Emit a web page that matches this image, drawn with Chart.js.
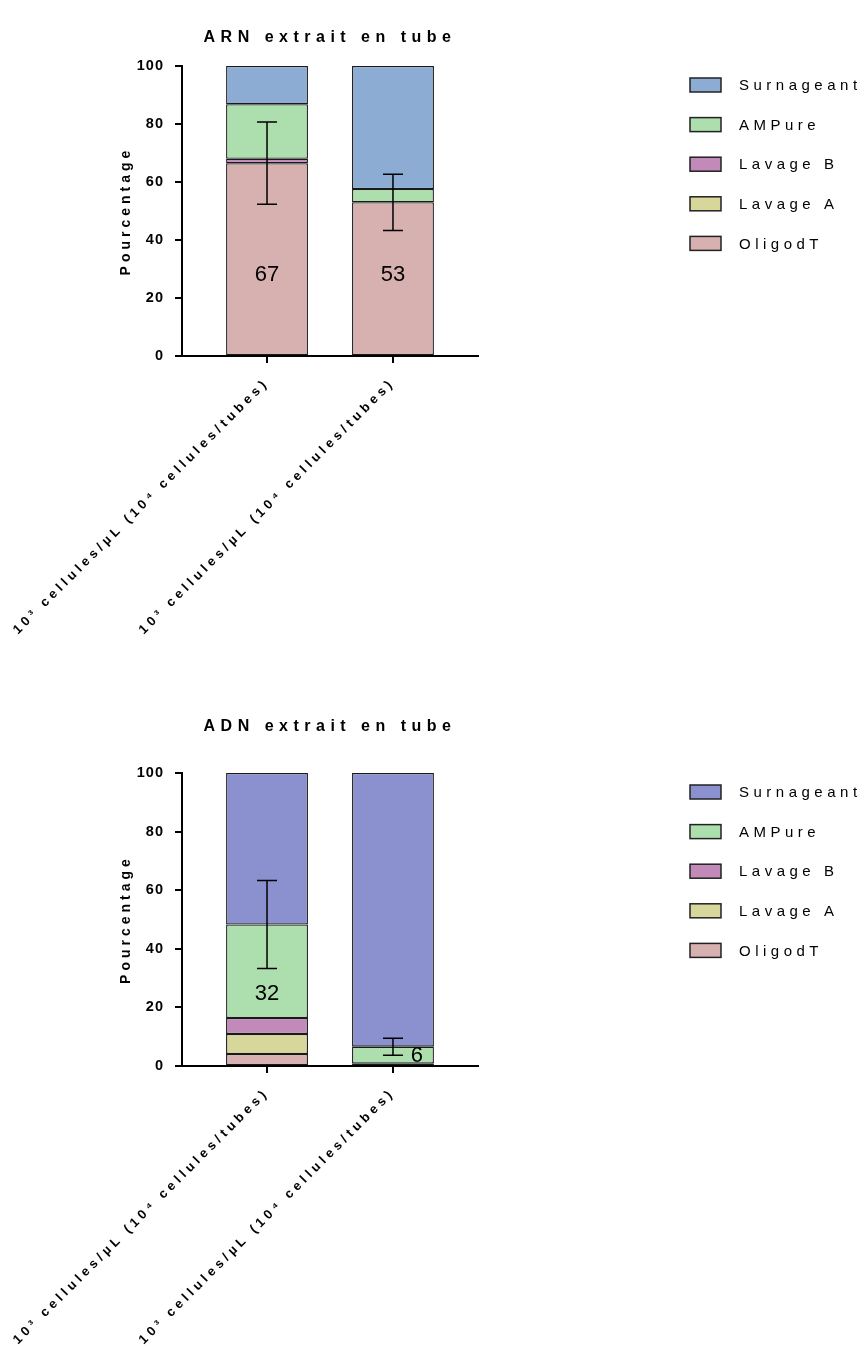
<!DOCTYPE html>
<html>
<head>
<meta charset="utf-8">
<script src="https://cdn.jsdelivr.net/npm/chart.js@4.4.1/dist/chart.umd.min.js"></script>
<style>
  body { margin: 0; background: #fff; }
  #wrap { position: relative; width: 867px; height: 1346px; }
  canvas { position: absolute; left: 0; }
</style>
</head>
<body>
<div id="wrap">
  <canvas id="arnChart" width="867" height="690" style="top:0"></canvas>
  <canvas id="adnChart" width="867" height="656" style="top:690px"></canvas>
</div>
<script>
// categories (x axis)
var categories = ['10³ cellules/µL (10⁴ cellules/tubes)', '10³ cellules/µL (10⁴ cellules/tubes)'];
var seriesNames = ['OligodT', 'Lavage A', 'Lavage B', 'AMPure', 'Surnageant'];
var yTicks = [0, 20, 40, 60, 80, 100];

// ARN extrait en tube (%)
var arnOligodT = [66.5, 53];
var arnLavageA = [0, 0];
var arnLavageB = [1.5, 0];
var arnAMPure = [18.8, 4.6];
var arnSurnageant = [13.2, 42.4];
var arnErrorOn = ['OligodT', 'OligodT'];
var arnErrorSd = [14.2, 9.7];

// ADN extrait en tube (%)
var adnOligodT = [4.1, 0.8];
var adnLavageA = [6.8, 0];
var adnLavageB = [5.5, 0];
var adnAMPure = [31.9, 5.8];
var adnSurnageant = [51.7, 93.4];
var adnErrorOn = ['AMPure', 'AMPure'];
var adnErrorSd = [15, 2.9];

var FONT = '"Liberation Sans", Arial, sans-serif';
Chart.defaults.font.family = FONT;
Chart.defaults.color = '#000';

// GraphPad-like letter spacing, picked from the font size of each text
var spacingBySize = { '16': '5.5px', '14': '4px', '14.5': '1px', '13': '4px', '15': '4.5px' };
function spacedContext(ctx) {
  var desc = Object.getOwnPropertyDescriptor(CanvasRenderingContext2D.prototype, 'font');
  Object.defineProperty(ctx, 'font', {
    configurable: true,
    get: function () { return desc.get.call(this); },
    set: function (v) {
      desc.set.call(this, v);
      var m = /([\d.]+)px/.exec(v);
      this.letterSpacing = (m && spacingBySize[m[1]]) || '0px';
    }
  });
  return ctx;
}

// legend drawn to the right, top item = top of the stack
var sideLegend = {
  id: 'sideLegend',
  afterDraw: function (chart, args, opts) {
    var ctx = chart.ctx, area = chart.chartArea;
    var items = chart.data.datasets.slice().reverse();
    ctx.save();
    ctx.font = '15px ' + FONT;
    ctx.textBaseline = 'middle';
    ctx.textAlign = 'left';
    items.forEach(function (ds, i) {
      var x = area.right + opts.left;
      var y = area.top + opts.top + i * opts.gap;
      ctx.fillStyle = ds.backgroundColor;
      ctx.fillRect(x, y - 7, 31, 14);
      ctx.strokeStyle = '#222';
      ctx.lineWidth = 1.5;
      ctx.strokeRect(x, y - 7, 31, 14);
      ctx.fillStyle = '#000';
      ctx.fillText(ds.label, x + 49, y + 1);
    });
    ctx.restore();
  }
};

// error bars (SD) and value labels on one segment of each bar
var barExtras = {
  id: 'barExtras',
  afterDatasetsDraw: function (chart, args, opts) {
    var ctx = chart.ctx, yScale = chart.scales.y;
    var sets = chart.data.datasets;
    function topOf(name, i) {
      var sum = 0;
      for (var k = 0; k < sets.length; k++) {
        sum += sets[k].data[i].y;
        if (sets[k].label === name) break;
      }
      return sum;
    }
    function indexOf(name) {
      return sets.findIndex(function (d) { return d.label === name; });
    }
    ctx.save();
    // value labels
    ctx.font = '22px ' + FONT;
    ctx.fillStyle = '#000';
    ctx.textAlign = 'center';
    ctx.textBaseline = 'middle';
    opts.labels.forEach(function (lb) {
      var ds = indexOf(lb.on);
      var el = chart.getDatasetMeta(ds).data[lb.bar];
      var v = sets[ds].data[lb.bar].y;
      ctx.fillText(String(Math.round(v)), el.x + (lb.dx || 0), yScale.getPixelForValue(lb.at));
    });
    // error bars
    ctx.strokeStyle = '#000';
    ctx.lineWidth = 1.5;
    opts.errorOn.forEach(function (name, i) {
      var el = chart.getDatasetMeta(indexOf(name)).data[i];
      var c = topOf(name, i);
      var y1 = yScale.getPixelForValue(c + opts.sd[i]);
      var y0 = yScale.getPixelForValue(c - opts.sd[i]);
      ctx.beginPath();
      ctx.moveTo(el.x, y0); ctx.lineTo(el.x, y1);
      ctx.moveTo(el.x - 10, y1); ctx.lineTo(el.x + 10, y1);
      ctx.moveTo(el.x - 10, y0); ctx.lineTo(el.x + 10, y0);
      ctx.stroke();
    });
    ctx.restore();
  }
};

function toPoints(values) {
  return values.map(function (v, i) { return { x: i, y: v }; });
}

function makeChart(id, title, series, colors, extras, geo) {
  var ctx = spacedContext(document.getElementById(id).getContext('2d'));
  return new Chart(ctx, {
    type: 'bar',
    data: {
      datasets: seriesNames.map(function (name, k) {
        return {
          label: name,
          data: toPoints(series[k]),
          backgroundColor: colors[k],
          borderColor: '#1a1a1a',
          borderWidth: 1.3,
          borderSkipped: false,
          categoryPercentage: 1,
          barPercentage: 0.65
        };
      })
    },
    options: {
      responsive: false,
      animation: false,
      layout: { padding: { left: 100, right: 389, top: 0, bottom: 0 } },
      scales: {
        x: {
          type: 'linear',
          stacked: true,
          offset: false,
          min: -0.675,
          max: categories.length - 1 + 0.675,
          afterBuildTicks: function (scale) {
            scale.ticks = categories.map(function (c, i) { return { value: i }; });
          },
          afterFit: function (scale) {
            scale.height = geo.xHeight;
            scale.paddingLeft = 0;
            scale.paddingRight = 0;
          },
          ticks: {
            autoSkip: false,
            minRotation: 45,
            maxRotation: 45,
            padding: 12,
            font: { size: 13, weight: 'bold' },
            callback: function (v) { return categories[v]; }
          },
          grid: { offset: false, drawOnChartArea: false, drawTicks: true, tickLength: 7, color: '#000', lineWidth: 2 },
          border: { color: '#000', width: 2 }
        },
        y: {
          stacked: true,
          min: 0,
          max: 100,
          afterBuildTicks: function (scale) {
            scale.ticks = yTicks.map(function (v) { return { value: v }; });
          },
          afterFit: function (scale) { scale.width = 82; },
          ticks: { padding: 11, font: { size: 14.5, weight: 'bold' } },
          grid: { drawOnChartArea: false, drawTicks: true, tickLength: 7, color: '#000', lineWidth: 2 },
          border: { color: '#000', width: 2 },
          title: {
            display: true,
            text: 'Pourcentage',
            font: { size: 14, weight: 'bold' },
            padding: { top: 17.6, bottom: 0 }
          }
        }
      },
      plugins: {
        legend: { display: false },
        tooltip: { enabled: false },
        title: {
          display: true,
          text: title,
          fullSize: false,
          font: { size: 16, weight: 'bold' },
          padding: { top: geo.titleTop, bottom: geo.titleBottom }
        },
        sideLegend: { left: 212, top: 19, gap: 39.6 },
        barExtras: extras
      }
    },
    plugins: [sideLegend, barExtras]
  });
}

makeChart('arnChart', 'ARN extrait en tube',
  [arnOligodT, arnLavageA, arnLavageB, arnAMPure, arnSurnageant],
  ['#d7b0b0', '#d7d79b', '#c18ab9', '#addead', '#8dacd3'],
  {
    errorOn: arnErrorOn,
    sd: arnErrorSd,
    labels: [{ bar: 0, on: 'OligodT', at: 28 }, { bar: 1, on: 'OligodT', at: 28 }]
  },
  { xHeight: 334, titleTop: 28.4, titleBottom: 18.4 });

makeChart('adnChart', 'ADN extrait en tube',
  [adnOligodT, adnLavageA, adnLavageB, adnAMPure, adnSurnageant],
  ['#d7b0b0', '#d7d79b', '#c18ab9', '#addead', '#8b91ce'],
  {
    errorOn: adnErrorOn,
    sd: adnErrorSd,
    labels: [{ bar: 0, on: 'AMPure', at: 24.5 }, { bar: 1, on: 'AMPure', at: 3.4, dx: 24 }]
  },
  { xHeight: 280, titleTop: 27.4, titleBottom: 36.4 });
</script>
</body>
</html>
